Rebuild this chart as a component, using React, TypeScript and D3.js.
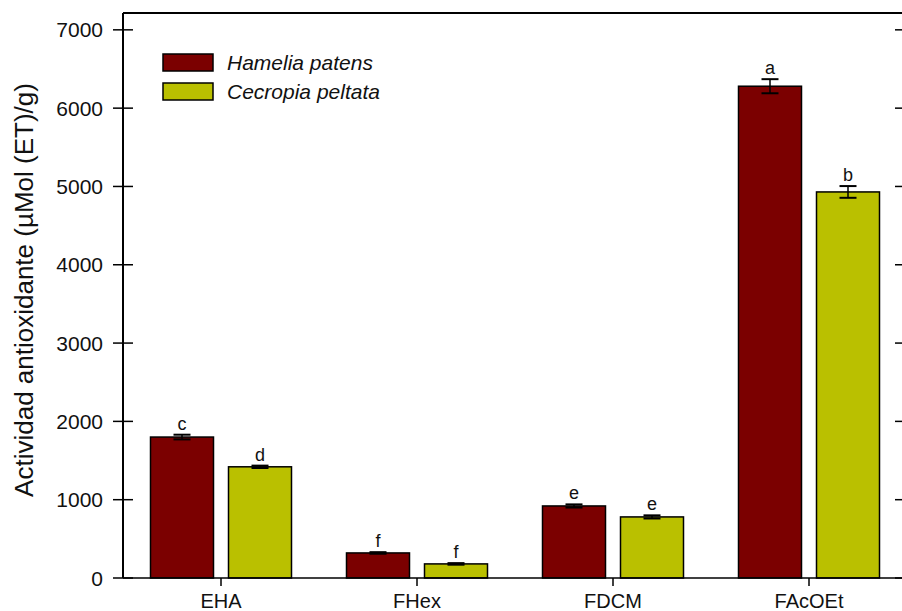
import React from "react"
import * as d3 from "d3"

const categories = ["EHA", "FHex", "FDCM", "FAcOEt"]
const species = ["Hamelia patens", "Cecropia peltata"]
const hamelia = [1800, 320, 920, 6280]
const hameliaErr = [30, 10, 20, 90]
const cecropia = [1420, 180, 780, 4930]
const cecropiaErr = [15, 10, 20, 75]
const hameliaLetters = ["c", "f", "e", "a"]
const cecropiaLetters = ["d", "f", "e", "b"]
const yTicks = [0, 1000, 2000, 3000, 4000, 5000, 6000, 7000]
const colors = ["#7b0000", "#bac000"]

const W = 902
const H = 611
const left = 123
const right = 907
const top = 13
const bottom = 578
const font = "Liberation Sans, Arial, sans-serif"

export default function App() {
  const x = d3.scaleBand().domain(categories).range([left, right])
  const y = d3.scaleLinear().domain([0, 7215]).range([bottom, top])
  const barW = 63
  const gap = 15

  const rows = categories.map((c, i) => [
    { cat: c, s: 0, v: hamelia[i], e: hameliaErr[i], l: hameliaLetters[i] },
    { cat: c, s: 1, v: cecropia[i], e: cecropiaErr[i], l: cecropiaLetters[i] },
  ]).flat()

  const barX = (d) => {
    const c = x(d.cat) + x.bandwidth() / 2
    return d.s === 0 ? c - gap / 2 - barW : c + gap / 2
  }

  return (
    <div style={{ position: "absolute", left: 0, top: 0 }}>
      <svg width={W} height={H} style={{ display: "block", background: "#fff" }} fontFamily={font} fill="#111">
        {rows.map((d, i) => {
          const bx = barX(d)
          const cx = bx + barW / 2
          return (
            <g key={i}>
              <rect x={bx} y={y(d.v)} width={barW} height={bottom - y(d.v)}
                fill={colors[d.s]} stroke="#000" strokeWidth={1.5} />
              <line x1={cx} x2={cx} y1={y(d.v + d.e)} y2={y(d.v - d.e)} stroke="#000" strokeWidth={1.5} />
              <line x1={cx - 8.5} x2={cx + 8.5} y1={y(d.v + d.e)} y2={y(d.v + d.e)} stroke="#000" strokeWidth={2} />
              <line x1={cx - 8.5} x2={cx + 8.5} y1={y(d.v - d.e)} y2={y(d.v - d.e)} stroke="#000" strokeWidth={2} />
              <text x={cx} y={y(d.v + d.e) - 5} textAnchor="middle" fontSize={18}>{d.l}</text>
            </g>
          )
        })}
        {/* frame */}
        <line x1={left} x2={W} y1={top} y2={top} stroke="#000" strokeWidth={2} />
        <line x1={left} x2={left} y1={top} y2={bottom} stroke="#000" strokeWidth={2} />
        <line x1={left} x2={W} y1={bottom} y2={bottom} stroke="#000" strokeWidth={1.5} />
        {yTicks.map((t) => (
          <g key={t}>
            <line x1={left - 10} x2={left + 10} y1={y(t)} y2={y(t)} stroke="#000" strokeWidth={1.5} />
            <line x1={right - 12} x2={W} y1={y(t)} y2={y(t)} stroke="#000" strokeWidth={1.5} />
            <text x={left - 20} y={y(t)} dy="0.36em" textAnchor="end" fontSize={21}>{t}</text>
          </g>
        ))}
        {categories.map((c) => {
          const cx = x(c) + x.bandwidth() / 2
          return (
            <g key={c}>
              <line x1={cx} x2={cx} y1={bottom} y2={bottom + 8} stroke="#000" strokeWidth={1.5} />
              <text x={cx} y={bottom + 30} textAnchor="middle" fontSize={20}>{c}</text>
            </g>
          )
        })}
        <text transform="translate(33,290) rotate(-90)" textAnchor="middle" fontSize={26}>
          Actividad antioxidante (µMol (ET)/g)
        </text>
        {species.map((s, i) => (
          <g key={s} transform={`translate(163,${54 + i * 29})`}>
            <rect width={50} height={17} fill={colors[i]} stroke="#000" strokeWidth={1.5} />
            <text x={64} y={8.5} dy="0.36em" fontSize={21} fontStyle="italic">{s}</text>
          </g>
        ))}
      </svg>
    </div>
  )
}
